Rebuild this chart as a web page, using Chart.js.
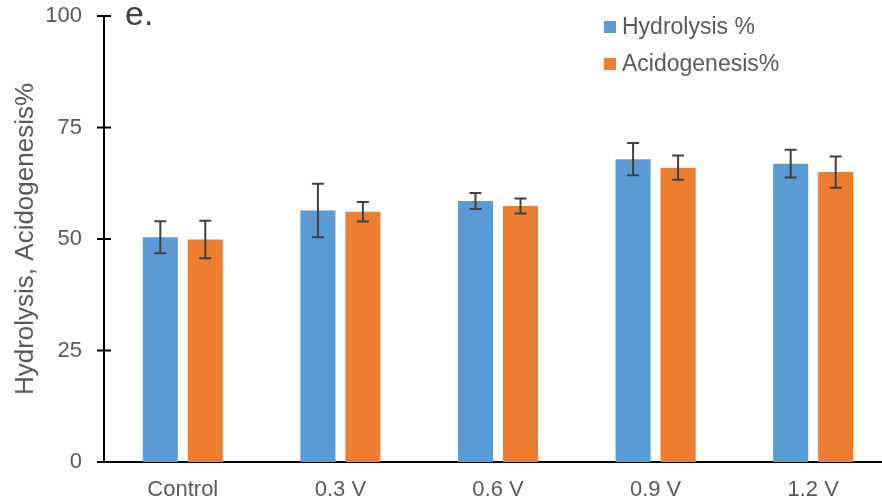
<!DOCTYPE html>
<html>
<head>
<meta charset="utf-8">
<script src="https://cdn.jsdelivr.net/npm/chart.js@4.4.1/dist/chart.umd.min.js"></script>
<style>
  html, body { margin: 0; padding: 0; background: #ffffff; overflow: hidden; }
  #wrap { width: 882px; height: 504px; overflow: hidden; position: relative; }
  canvas { display: block; }
</style>
</head>
<body>
<div id="wrap"><canvas id="c" width="892" height="504"></canvas></div>
<script>
const categories = ["Control", "0.3 V", "0.6 V", "0.9 V", "1.2 V"];
const hydrolysis = [50.4, 56.4, 58.5, 67.9, 66.9];
const hydrolysisErr = [3.6, 6.0, 1.8, 3.6, 3.1];
const acidogenesis = [49.9, 56.1, 57.4, 66.0, 65.0];
const acidogenesisErr = [4.2, 2.2, 1.7, 2.7, 3.5];
const yTicks = [0, 25, 50, 75, 100];
const seriesNames = ["Hydrolysis %", "Acidogenesis%"];
const panelLabel = "e.";
const yTitle = "Hydrolysis, Acidogenesis%";

const blue = "#5B9BD5";
const orange = "#ED7D31";
const errs = [hydrolysisErr, acidogenesisErr];

const extrasPlugin = {
  id: "extras",
  afterDatasetsDraw(chart) {
    const ctx = chart.ctx;
    const ys = chart.scales.y;
    ctx.save();
    // error bars
    ctx.strokeStyle = "#404040";
    ctx.lineWidth = 2;
    chart.data.datasets.forEach((ds, i) => {
      const meta = chart.getDatasetMeta(i);
      meta.data.forEach((el, j) => {
        const v = ds.data[j], e = errs[i][j];
        const yt = ys.getPixelForValue(v + e);
        const yb = ys.getPixelForValue(v - e);
        const x = el.x;
        ctx.beginPath();
        ctx.moveTo(x, yt); ctx.lineTo(x, yb);
        ctx.moveTo(x - 6, yt); ctx.lineTo(x + 6, yt);
        ctx.moveTo(x - 6, yb); ctx.lineTo(x + 6, yb);
        ctx.stroke();
      });
    });
    // crossing y ticks
    ctx.strokeStyle = "#000000";
    ctx.lineWidth = 2;
    const ax = chart.chartArea.left;
    yTicks.forEach(t => {
      const y = ys.getPixelForValue(t);
      ctx.beginPath();
      ctx.moveTo(ax - 7, y); ctx.lineTo(ax + 7, y);
      ctx.stroke();
    });
    // panel label
    ctx.fillStyle = "#404040";
    ctx.font = "34px 'Liberation Sans', Arial, sans-serif";
    ctx.textBaseline = "alphabetic";
    ctx.textAlign = "left";
    ctx.fillText(panelLabel, ax + 21, 25);
    // legend
    ctx.font = "23px 'Liberation Sans', Arial, sans-serif";
    ctx.textBaseline = "middle";
    chart.data.datasets.forEach((ds, i) => {
      const cy = 27 + i * 37;
      ctx.fillStyle = ds.backgroundColor;
      ctx.fillRect(604, cy - 6, 12, 12);
      ctx.fillStyle = "#595959";
      ctx.fillText(ds.label, 622, cy + 1);
    });
    ctx.restore();
  }
};

new Chart(document.getElementById("c"), {
  type: "bar",
  data: {
    labels: categories,
    datasets: [
      { label: seriesNames[0], data: hydrolysis, backgroundColor: blue,
        categoryPercentage: 0.571, barPercentage: 0.78 },
      { label: seriesNames[1], data: acidogenesis, backgroundColor: orange,
        categoryPercentage: 0.571, barPercentage: 0.78 }
    ]
  },
  options: {
    responsive: false,
    animation: false,
    layout: { padding: { top: 16, left: 0, right: 0, bottom: 0 } },
    plugins: { legend: { display: false }, tooltip: { enabled: false } },
    scales: {
      x: {
        grid: { display: false, drawTicks: false },
        border: { display: true, color: "#000000", width: 2 },
        ticks: { color: "#595959", padding: 15, maxRotation: 0,
          font: { family: "'Liberation Sans', Arial, sans-serif", size: 22 } },
        afterFit(s) { s.height = 42; s.paddingLeft = 0; s.paddingRight = 0; }
      },
      y: {
        min: 0, max: 100,
        afterBuildTicks(s) { s.ticks = yTicks.map(v => ({ value: v })); },
        grid: { display: false, drawTicks: false },
        border: { display: true, color: "#000000", width: 2 },
        ticks: { color: "#595959", padding: 22,
          font: { family: "'Liberation Sans', Arial, sans-serif", size: 22 } },
        title: { display: true, text: yTitle, color: "#595959",
          padding: { top: 10, bottom: 0 },
          font: { family: "'Liberation Sans', Arial, sans-serif", size: 26 } },
        afterFit(s) { s.width = 104; s.paddingTop = 0; s.paddingBottom = 0; }
      }
    }
  },
  plugins: [extrasPlugin]
});
</script>
</body>
</html>
